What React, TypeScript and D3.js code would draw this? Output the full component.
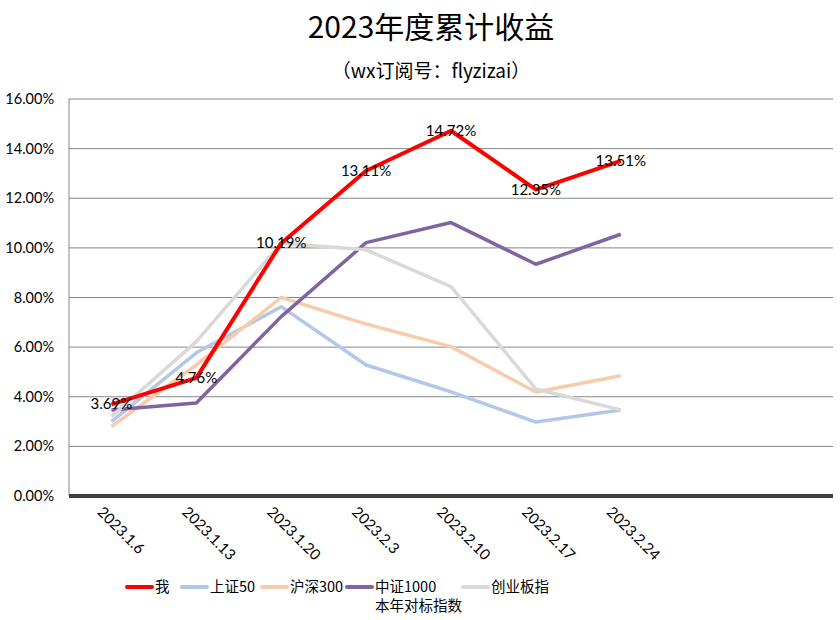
import React from "react";
import * as d3 from "d3";

const categories = ["2023.1.6", "2023.1.13", "2023.1.20", "2023.2.3", "2023.2.10", "2023.2.17", "2023.2.24", "", " "];
const seriesNames = ["我", "上证50", "沪深300", "中证1000\n本年对标指数", "创业板指"];
const meValues = [3.69, 4.76, 10.19, 13.11, 14.72, 12.35, 13.51];
const sz50Values = [3.0, 5.77, 7.63, 5.28, 4.2, 2.98, 3.47];
const hs300Values = [2.8, 5.28, 8.0, 6.93, 6.02, 4.19, 4.85];
const zz1000Values = [3.47, 3.75, 7.23, 10.21, 11.02, 9.34, 10.55];
const cybValues = [3.2, 6.22, 10.19, 9.92, 8.44, 4.31, 3.47];
const yTicks = [0, 2, 4, 6, 8, 10, 12, 14, 16];
const colors = ["#FF0000", "#B4C7E7", "#F8CBAD", "#8064A2", "#D9D9D9"];

const W = 840, H = 620;
const left = 69, right = 833, top = 99, bottom = 496;

export default function App() {
  const x = d3.scaleBand<string>().domain(categories).range([left, right]);
  const y = d3.scaleLinear().domain([0, 16]).range([bottom, top]);
  const cx = (i: number) => (x(categories[i]) as number) + x.bandwidth() / 2;
  const line = d3.line<number>().x((_, i) => cx(i)).y((d) => y(d));
  const all = [meValues, sz50Values, hs300Values, zz1000Values, cybValues];
  const drawOrder = [1, 2, 3, 4, 0];
  const font = "Lato, 'Noto Sans CJK SC', sans-serif";
  const cjk = "'Noto Sans CJK SC', sans-serif";
  const legendX = [127, 182, 262, 347, 463];
  return (
    <svg width={W} height={H} style={{ position: "absolute", left: 0, top: 0, background: "#fff" }}>
      <rect width={W} height={H} fill="#fff" />
      <text x={431} y={38} textAnchor="middle" fontSize={30} fontFamily={cjk} fill="#000">2023年度累计收益</text>
      <text x={431} y={78} textAnchor="middle" fontSize={19} fontFamily={cjk} fill="#000">（wx订阅号：flyzizai）</text>
      {yTicks.map((t) => (
        <g key={t}>
          {t > 0 && <line x1={left} x2={right} y1={y(t)} y2={y(t)} stroke="#868686" strokeWidth={1} />}
          <text x={54} y={y(t) + 5} textAnchor="end" fontSize={14.5} fontFamily={font} fill="#000">{t.toFixed(2)}%</text>
        </g>
      ))}
      <line x1={left} x2={left} y1={top} y2={bottom} stroke="#868686" strokeWidth={1} />
      <line x1={left} x2={right} y1={bottom} y2={bottom} stroke="#404040" strokeWidth={4} />
      {categories.map((c, i) => c.trim() ? (
        <text key={i} transform={`translate(${cx(i) - 15},${bottom + 17}) rotate(45)`} fontSize={15} fontFamily={font} fill="#000">{c}</text>
      ) : null)}
      {drawOrder.map((si) => (
        <path key={si} d={line(all[si]) || ""} fill="none" stroke={colors[si]} strokeWidth={si === 0 ? 4 : 3.5} strokeLinejoin="round" />
      ))}
      {meValues.map((v, i) => (
        <text key={i} x={cx(i)} y={y(v) + 5} textAnchor="middle" fontSize={15} fontFamily={font} fill="#000">{v.toFixed(2)}%</text>
      ))}
      {seriesNames.map((n, i) => {
        const lines = n.split("\n");
        return (
          <g key={i}>
            <line x1={legendX[i]} x2={legendX[i] + 25} y1={587} y2={587} stroke={colors[i]} strokeWidth={4} strokeLinecap="round" />
            {lines.map((l, j) => (
              <text key={j} x={legendX[i] + 28} y={592 + j * 19} fontSize={14.5} fontFamily={cjk} fill="#000">{l}</text>
            ))}
          </g>
        );
      })}
    </svg>
  );
}
